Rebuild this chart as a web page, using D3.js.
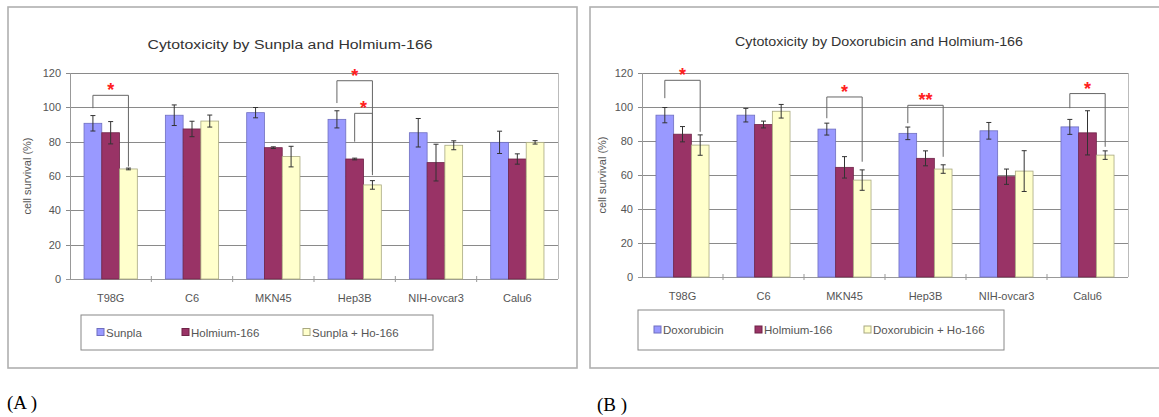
<!DOCTYPE html>
<html>
<head>
<meta charset="utf-8">
<script src="https://cdn.jsdelivr.net/npm/d3@7"></script>
<style>
  body { margin: 0; background: #fff; }
  text { font-family: "Liberation Sans", Arial, sans-serif; }
  text.letter { font-family: "Liberation Serif", "Times New Roman", serif; }
</style>
</head>
<body>
<div id="chart-area"></div>
<script>
// data
const categories = ["T98G", "C6", "MKN45", "Hep3B", "NIH-ovcar3", "Calu6"];
const yTicks = [0, 20, 40, 60, 80, 100, 120];

const seriesA = ["Sunpla", "Holmium-166", "Sunpla + Ho-166"];
const sunplaA = [90.7, 95.4, 96.9, 93.0, 85.2, 79.6];
const sunplaErrA = [4.5, 6.0, 3.0, 5.0, 8.3, 6.5];
const holmiumA = [85.2, 87.4, 76.5, 69.9, 67.8, 69.9];
const holmiumErrA = [6.5, 4.5, 0.5, 0.5, 10.7, 3.0];
const comboA = [64.1, 92.0, 71.3, 54.8, 77.9, 79.6];
const comboErrA = [0.5, 3.5, 6.0, 2.5, 2.6, 1.0];
// significance brackets: category, series from/to, top value, leg ends, mark
const bracketsA = [
  { cat: "T98G", s1: 0, s2: 2, top: 107, y1: 99.5, y2: 65.5, mark: "*" },
  { cat: "Hep3B", s1: 0, s2: 2, top: 115.5, y1: 102.5, y2: 60.5, mark: "*" },
  { cat: "Hep3B", s1: 1, s2: 2, top: 96.5, y1: 80, y2: 62.5, mark: "*" }
];

const seriesB = ["Doxorubicin", "Holmium-166", "Doxorubicin + Ho-166"];
const doxoB = [95.2, 95.2, 87.0, 84.5, 86.0, 88.3];
const doxoErrB = [4.5, 4.0, 3.5, 3.7, 4.9, 4.4];
const holmiumB = [84.0, 89.7, 64.5, 69.8, 59.0, 84.8];
const holmiumErrB = [4.5, 2.0, 6.3, 4.4, 4.5, 13.0];
const comboB = [77.6, 97.5, 57.0, 63.5, 62.3, 71.7];
const comboErrB = [6.0, 4.0, 6.0, 2.5, 12.0, 2.5];
const bracketsB = [
  { cat: "T98G", s1: 0, s2: 2, top: 115.7, y1: 105.2, y2: 85.4, mark: "*" },
  { cat: "MKN45", s1: 0, s2: 2, top: 105.9, y1: 93.4, y2: 67.8, mark: "*" },
  { cat: "Hep3B", s1: 0, s2: 2, top: 101, y1: 90.5, y2: 70.7, mark: "**" },
  { cat: "Calu6", s1: 0, s2: 2, top: 107.9, y1: 99.3, y2: 76.6, mark: "*" }
];

const colors = ["#9999ff", "#993366", "#ffffcc"];
const strokes = ["#6f6fc0", "#6e2347", "#a8a880"];

const svg = d3.select("#chart-area")
    .append("svg")
    .attr("width", 1159)
    .attr("height", 417);

function drawPanel(p) {
    const g = svg.append("g");

    // outer frame
    g.append("rect")
        .attr("x", p.frame[0]).attr("y", p.frame[1])
        .attr("width", p.frame[2]).attr("height", p.frame[3])
        .attr("fill", "#fff").attr("stroke", "#b0b0b0").attr("stroke-width", 1.6);

    const x = d3.scaleBand()
        .domain(categories)
        .range([p.plot.l, p.plot.r])
        .paddingInner(0.345)
        .paddingOuter(0.1725);
    const xs = d3.scaleBand().domain([0, 1, 2]).range([0, x.bandwidth()]);
    const y = d3.scaleLinear().domain([0, 120]).range([p.plot.b, p.plot.t]);

    // grid
    g.selectAll(".grid").data(yTicks).enter().append("line")
        .attr("x1", p.plot.l - 4).attr("x2", p.plot.r)
        .attr("y1", d => Math.round(y(d)) + 0.5).attr("y2", d => Math.round(y(d)) + 0.5)
        .attr("stroke", d => d === 0 ? "#999" : "#8a8a8a").attr("stroke-width", 1);
    g.append("line")
        .attr("x1", p.plot.l + 0.5).attr("x2", p.plot.l + 0.5)
        .attr("y1", p.plot.t).attr("y2", p.plot.b)
        .attr("stroke", "#999");
    g.append("line")
        .attr("x1", p.plot.r + 0.5).attr("x2", p.plot.r + 0.5)
        .attr("y1", p.plot.t).attr("y2", p.plot.b)
        .attr("stroke", "#bbb");

    // category ticks on x axis
    const step = x.step();
    g.selectAll(".xtick").data(d3.range(1, categories.length)).enter().append("line")
        .attr("x1", d => p.plot.l + d * step).attr("x2", d => p.plot.l + d * step)
        .attr("y1", p.plot.b - 3).attr("y2", p.plot.b + 3)
        .attr("stroke", "#999");

    // y tick labels
    g.selectAll(".ylab").data(yTicks).enter().append("text")
        .attr("x", p.plot.l - 9).attr("y", d => y(d))
        .attr("dy", "0.35em").attr("text-anchor", "end")
        .attr("font-size", 11).attr("fill", "#555")
        .text(d => d);

    // x labels
    g.selectAll(".xlab").data(categories).enter().append("text")
        .attr("x", d => x(d) + x.bandwidth() / 2).attr("y", p.xlabY)
        .attr("dy", "0.35em").attr("text-anchor", "middle")
        .attr("font-size", 11).attr("fill", "#555")
        .text(d => d);

    // bars
    p.values.forEach(function (vals, s) {
        g.selectAll(".bar" + s).data(vals).enter().append("rect")
            .attr("x", (d, i) => x(categories[i]) + xs(s))
            .attr("y", d => y(d))
            .attr("width", xs.bandwidth())
            .attr("height", d => y(0) - y(d))
            .attr("fill", colors[s])
            .attr("stroke", strokes[s]).attr("stroke-width", 0.8);
    });

    // error bars
    p.values.forEach(function (vals, s) {
        vals.forEach(function (v, i) {
            const cx = x(categories[i]) + xs(s) + xs.bandwidth() / 2;
            const e = p.errors[s][i];
            const eb = g.append("g").attr("stroke", "#333").attr("stroke-width", 1);
            eb.append("line").attr("x1", cx).attr("x2", cx).attr("y1", y(v - e)).attr("y2", y(v + e));
            eb.append("line").attr("x1", cx - 2.5).attr("x2", cx + 2.5).attr("y1", y(v - e)).attr("y2", y(v - e));
            eb.append("line").attr("x1", cx - 2.5).attr("x2", cx + 2.5).attr("y1", y(v + e)).attr("y2", y(v + e));
        });
    });

    // significance brackets
    p.brackets.forEach(function (b) {
        const xa = x(b.cat) + xs(b.s1) + xs.bandwidth() / 2;
        const xb = x(b.cat) + xs(b.s2) + xs.bandwidth() / 2;
        g.append("path")
            .attr("d", "M" + xa + "," + y(b.y1) + "V" + y(b.top) + "H" + xb + "V" + y(b.y2))
            .attr("fill", "none").attr("stroke", "#666").attr("stroke-width", 1);
        g.append("text")
            .attr("x", (xa + xb) / 2).attr("y", y(b.top) + 1)
            .attr("text-anchor", "middle")
            .attr("font-size", 18).attr("font-weight", "bold").attr("fill", "#ff2020")
            .text(b.mark);
    });

    // title
    g.append("text")
        .attr("x", p.title.x).attr("y", p.title.y)
        .attr("dy", "0.35em").attr("text-anchor", "middle")
        .attr("font-size", 12.5).attr("fill", "#333")
        .attr("textLength", p.title.len).attr("lengthAdjust", "spacingAndGlyphs")
        .text(p.title.text);

    // y axis title
    g.append("text")
        .attr("transform", "translate(" + p.ylab[0] + "," + p.ylab[1] + ") rotate(-90)")
        .attr("dy", "0.35em").attr("text-anchor", "middle")
        .attr("font-size", 11).attr("fill", "#555")
        .text("cell survival (%)");

    // legend
    const L = p.legend;
    g.append("rect")
        .attr("x", L.x).attr("y", L.y).attr("width", L.w).attr("height", L.h)
        .attr("fill", "#fff").attr("stroke", "#888").attr("stroke-width", 1);
    p.series.forEach(function (name, s) {
        g.append("rect")
            .attr("x", L.items[s]).attr("y", L.y + L.h / 2 - 4)
            .attr("width", 7).attr("height", 7)
            .attr("fill", colors[s]).attr("stroke", strokes[s]);
        g.append("text")
            .attr("x", L.items[s] + 9).attr("y", L.y + L.h / 2)
            .attr("dy", "0.35em").attr("font-size", 11.5).attr("fill", "#555")
            .text(name);
    });

    // panel letter
    svg.append("text")
        .attr("class", "letter")
        .attr("x", p.letter[0]).attr("y", p.letter[1])
        .attr("font-size", 19).attr("fill", "#000")
        .text(p.letter[2]);
}

drawPanel({
    frame: [8, 7, 569, 361],
    plot: { l: 70, r: 558, t: 73, b: 279 },
    xlabY: 298,
    values: [sunplaA, holmiumA, comboA],
    errors: [sunplaErrA, holmiumErrA, comboErrA],
    brackets: bracketsA,
    series: seriesA,
    title: { x: 290, y: 45, len: 285, text: "Cytotoxicity by Sunpla and Holmium-166" },
    ylab: [27, 176],
    legend: { x: 81, y: 315, w: 352, h: 35, items: [97, 182, 303] },
    letter: [7, 409, "(A )"]
});

drawPanel({
    frame: [590, 7, 575, 361],
    plot: { l: 642, r: 1128, t: 73, b: 277 },
    xlabY: 296,
    values: [doxoB, holmiumB, comboB],
    errors: [doxoErrB, holmiumErrB, comboErrB],
    brackets: bracketsB,
    series: seriesB,
    title: { x: 879, y: 42, len: 288, text: "Cytotoxicity by Doxorubicin and Holmium-166" },
    ylab: [602, 175],
    legend: { x: 638, y: 310, w: 366, h: 40, items: [654, 755, 864] },
    letter: [597, 411, "(B )"]
});
</script>
</body>
</html>
